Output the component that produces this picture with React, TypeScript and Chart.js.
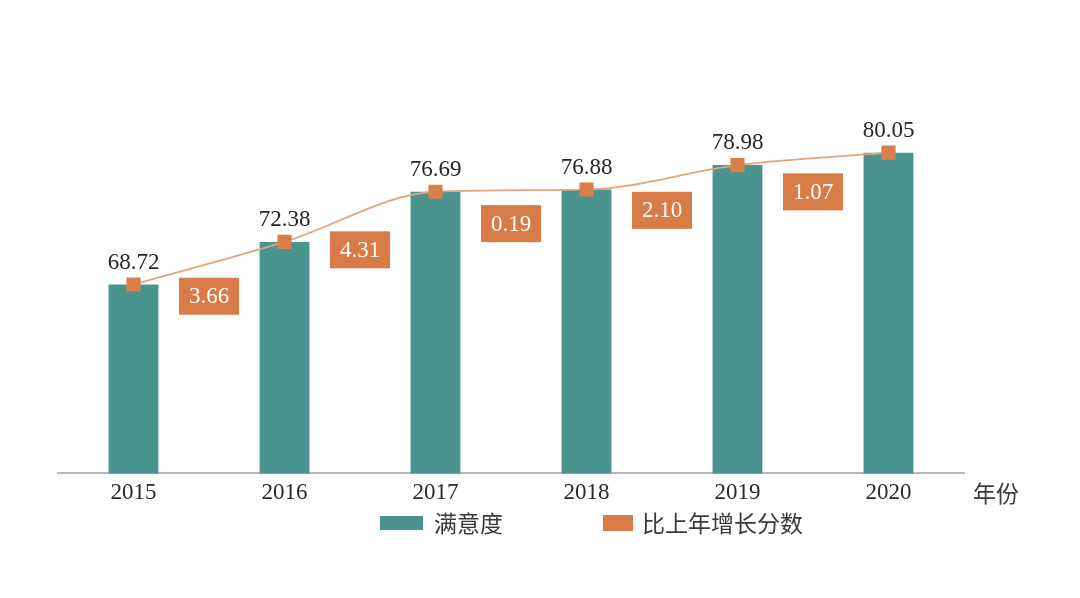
import React, { useEffect, useRef } from "react";
import { Chart, registerables } from "chart.js";

Chart.register(...registerables);

const years = ["2015", "2016", "2017", "2018", "2019", "2020"];
const satisfaction = [68.72, 72.38, 76.69, 76.88, 78.98, 80.05];
const valueLabels = ["68.72", "72.38", "76.69", "76.88", "78.98", "80.05"];
const increaseLabels = ["3.66", "4.31", "0.19", "2.10", "1.07"];
const legendLabels = ["满意度", "比上年增长分数"];
const axisTitle = "年份";

const TEAL = "#4b938e";
const ORANGE = "#d97b46";
const LINE = "#e3a57a";
const SERIF = '"Liberation Serif", "Times New Roman", serif';
const CJK = '"Noto Sans CJK SC", sans-serif';

const overlayPlugin = {
  id: "overlay",
  afterDatasetsDraw(chart: any) {
    const ctx = chart.ctx;
    const bars = chart.getDatasetMeta(0).data;
    const pts = chart.getDatasetMeta(1).data;
    ctx.save();
    ctx.font = `23px ${SERIF}`;
    ctx.fillStyle = "#262626";
    ctx.textAlign = "center";
    ctx.textBaseline = "middle";
    bars.forEach((b: any, i: number) => {
      ctx.fillText(valueLabels[i], b.x, b.y - 22);
    });
    for (let i = 0; i < increaseLabels.length; i++) {
      const p0 = pts[i];
      const p1 = pts[i + 1];
      const cx = (p0.x + p1.x) / 2;
      const cy = (p0.y + p1.y) / 2 + 33;
      const w = 60;
      const h = 37;
      ctx.fillStyle = ORANGE;
      ctx.fillRect(cx - w / 2, cy - h / 2, w, h);
      ctx.fillStyle = "#ffffff";
      ctx.font = `23px ${SERIF}`;
      ctx.fillText(increaseLabels[i], cx, cy + 1);
    }
    ctx.restore();
  },
  afterDraw(chart: any) {
    const ctx = chart.ctx;
    const area = chart.chartArea;
    ctx.save();
    ctx.textBaseline = "middle";
    ctx.textAlign = "left";
    ctx.font = `23px ${CJK}`;
    ctx.fillStyle = "#3a3a3a";
    ctx.fillText(axisTitle, area.right + 9, area.bottom + 20);
    const ly = 523;
    ctx.fillStyle = TEAL;
    ctx.fillRect(380, ly - 7, 43, 14);
    ctx.fillStyle = "#3a3a3a";
    ctx.fillText(legendLabels[0], 434, ly);
    ctx.fillStyle = ORANGE;
    ctx.fillRect(603, ly - 8, 30, 16);
    ctx.fillStyle = "#3a3a3a";
    ctx.fillText(legendLabels[1], 642, ly);
    ctx.restore();
  },
};

export default function App() {
  const ref = useRef<HTMLCanvasElement>(null);
  useEffect(() => {
    if (!ref.current) return;
    const chart = new Chart(ref.current, {
      type: "bar",
      data: {
        labels: years,
        datasets: [
          {
            type: "bar",
            label: legendLabels[0],
            data: satisfaction,
            backgroundColor: TEAL,
            barPercentage: 0.66,
            categoryPercentage: 0.5,
            order: 2,
          },
          {
            type: "line",
            label: legendLabels[1],
            data: satisfaction,
            borderColor: LINE,
            borderWidth: 1.8,
            backgroundColor: ORANGE,
            pointStyle: "rect",
            pointRadius: 10,
            pointBorderWidth: 0,
            pointBackgroundColor: "#d9804a",
            cubicInterpolationMode: "monotone",
            order: 1,
          } as any,
        ],
      },
      options: {
        responsive: false,
        animation: false,
        layout: { padding: { left: 58, right: 116, top: 95, bottom: 85 } },
        plugins: { legend: { display: false }, tooltip: { enabled: false } },
        scales: {
          x: {
            grid: { display: false, drawTicks: false },
            border: { display: true, color: "#b8b8b8", width: 2 },
            ticks: {
              padding: 6,
              color: "#2a2a2a",
              font: { family: SERIF, size: 23 },
            },
          },
          y: {
            display: false,
            min: 52.5,
            max: 85,
          },
        },
      },
      plugins: [overlayPlugin],
    });
    return () => chart.destroy();
  }, []);
  return (
    <div style={{ position: "absolute", left: 0, top: 0, width: 1080, height: 598, background: "#fff" }}>
      <canvas ref={ref} width={1080} height={598} style={{ width: 1080, height: 598 }} />
    </div>
  );
}
